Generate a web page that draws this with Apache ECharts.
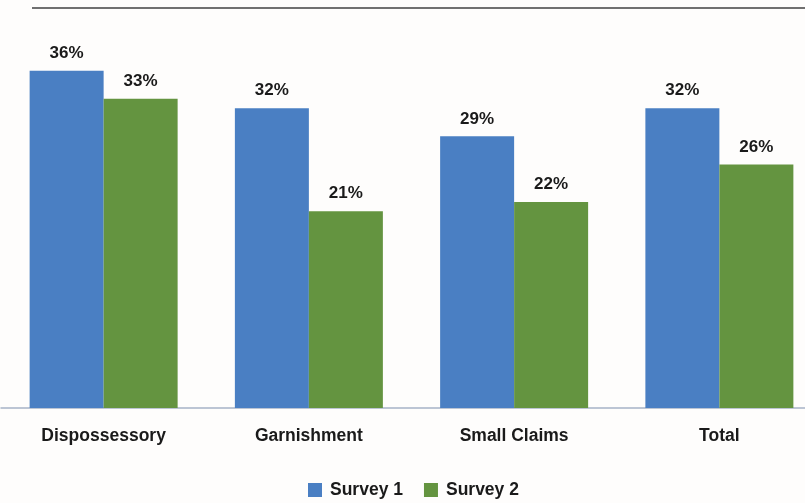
<!DOCTYPE html>
<html>
<head>
<meta charset="utf-8">
<script src="https://cdn.jsdelivr.net/npm/echarts@6/dist/echarts.min.js"></script>
<style>
html,body{margin:0;padding:0;background:#fefdfc;}
#chart{width:805px;height:503px;}
</style>
</head>
<body>
<div id="chart"></div>
<script>
const categories = ['Dispossessory', 'Garnishment', 'Small Claims', 'Total'];
const survey1 = [36, 32, 29, 32];
const survey2 = [33, 21, 22, 26];
const seriesNames = ['Survey 1', 'Survey 2'];

const chart = echarts.init(document.getElementById('chart'), null, {renderer: 'canvas'});
const font = '"Liberation Sans", Arial, sans-serif';
const labelStyle = {
  show: true, position: 'top', distance: 9,
  formatter: '{c}%', fontSize: 17, fontWeight: 'bold',
  color: '#1a1a1a', fontFamily: font
};
chart.setOption({
  backgroundColor: '#fefdfc',
  animation: false,
  grid: {left: 1, top: 8, width: 821, height: 400, containLabel: false, outerBoundsMode: 'none'},
  legend: {
    data: seriesNames, top: 481, left: 308, padding: 0,
    itemWidth: 14, itemHeight: 14, itemGap: 21, icon: 'rect',
    textStyle: {fontSize: 17.5, fontWeight: 'bold', color: '#1a1a1a', fontFamily: font, padding: [0,0,0,3]}
  },
  xAxis: {
    type: 'category', data: categories,
    axisLine: {lineStyle: {color: '#a7b3c6', width: 1.5}},
    axisTick: {show: false},
    axisLabel: {fontSize: 17.5, fontWeight: 'bold', color: '#1a1a1a', fontFamily: font, margin: 19}
  },
  yAxis: {type: 'value', min: 0, max: 42.7, show: false, splitLine: {show: false}},
  graphic: [{
    type: 'line', shape: {x1: 32, y1: 8, x2: 805, y2: 8},
    style: {stroke: '#707070', lineWidth: 2}
  }],
  series: [
    {name: seriesNames[0], type: 'bar', data: survey1, barWidth: 74, barGap: '0%',
     itemStyle: {color: '#4a7fc3'}, label: labelStyle},
    {name: seriesNames[1], type: 'bar', data: survey2, barWidth: 74, barGap: '0%',
     itemStyle: {color: '#649440'}, label: labelStyle}
  ]
});
</script>
</body>
</html>
